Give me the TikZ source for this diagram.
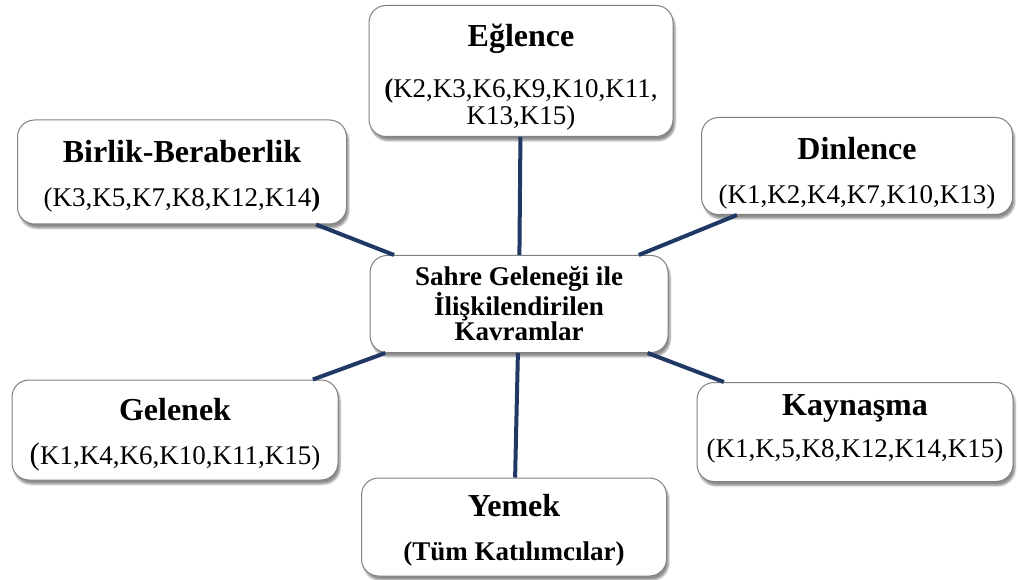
\documentclass[tikz,border=0pt]{standalone}
\usepackage{fontspec}
\setmainfont{Liberation Serif}
\usetikzlibrary{shadows.blur}

\definecolor{linknavy}{RGB}{31,56,100}
\definecolor{boxgray}{RGB}{128,128,128}

\tikzset{
  concept/.style={draw=boxgray, line width=1pt, rounded corners=17pt, fill=white,
    blur shadow={shadow xshift=2pt, shadow yshift=-4pt, shadow blur steps=6, shadow opacity=45},
    align=center, inner sep=0pt, font=\fontsize{27}{26}\selectfont},
  link/.style={draw=linknavy, line width=4pt}
}
% baslik: #1 = satir yuksekligi (metni kutuda asagi iter), #2 = metin
\newcommand{\ctitle}[2][22pt]{{\fontsize{32}{34}\selectfont\bfseries\rule{0pt}{#1}#2}}

\begin{document}
\begin{tikzpicture}[x=1pt, y=-1pt]
  \useasboundingbox (0,0) rectangle (1018,580);
  % kavram kutulari
  \node[concept, minimum width=304pt, minimum height=131pt,
        font=\fontsize{27}{27}\selectfont] (eglence) at (521,71)
    {\ctitle[34pt]{Eğlence}\\[24pt]\textbf{(}K2,K3,K6,K9,K10,K11,\\K13,K15)};
  \node[concept, minimum width=329pt, minimum height=104pt] (birlik) at (182,172)
    {\ctitle[30pt]{Birlik-Beraberlik}\\[18pt](K3,K5,K7,K8,K12,K14\textbf{)}};
  \node[concept, minimum width=311pt, minimum height=97pt] (dinlence) at (857,166)
    {\ctitle[36pt]{Dinlence}\\[18pt](K1,K2,K4,K7,K10,K13)};
  \node[concept, minimum width=298pt, minimum height=97pt,
        font=\fontsize{27}{25}\selectfont\bfseries] (merkez) at (519,304)
    {Sahre Geleneği ile\\İlişkilendirilen\\Kavramlar};
  \node[concept, minimum width=326pt, minimum height=100pt] (gelenek) at (175,430)
    {\ctitle[31pt]{Gelenek}\\[18pt]{\fontsize{31}{26}\selectfont(}K1,K4,K6,K10,K11,K15)};
  \node[concept, minimum width=316pt, minimum height=99pt] (kaynasma) at (855,432)
    {\ctitle{Kaynaşma}\\[16pt](K1,K,5,K8,K12,K14,K15)\rule[-13pt]{0pt}{1pt}};
  \node[concept, minimum width=305pt, minimum height=98pt] (yemek) at (514,527)
    {\ctitle[29pt]{Yemek}\\[18pt]\textbf{(Tüm Katılımcılar)}};
  % baglantilar
  \draw[link] (eglence) -- (merkez);
  \draw[link] (birlik) -- (merkez);
  \draw[link] (dinlence) -- (merkez);
  \draw[link] (gelenek) -- (merkez);
  \draw[link] (kaynasma) -- (merkez);
  \draw[link] (yemek) -- (merkez);
\end{tikzpicture}
\end{document}
